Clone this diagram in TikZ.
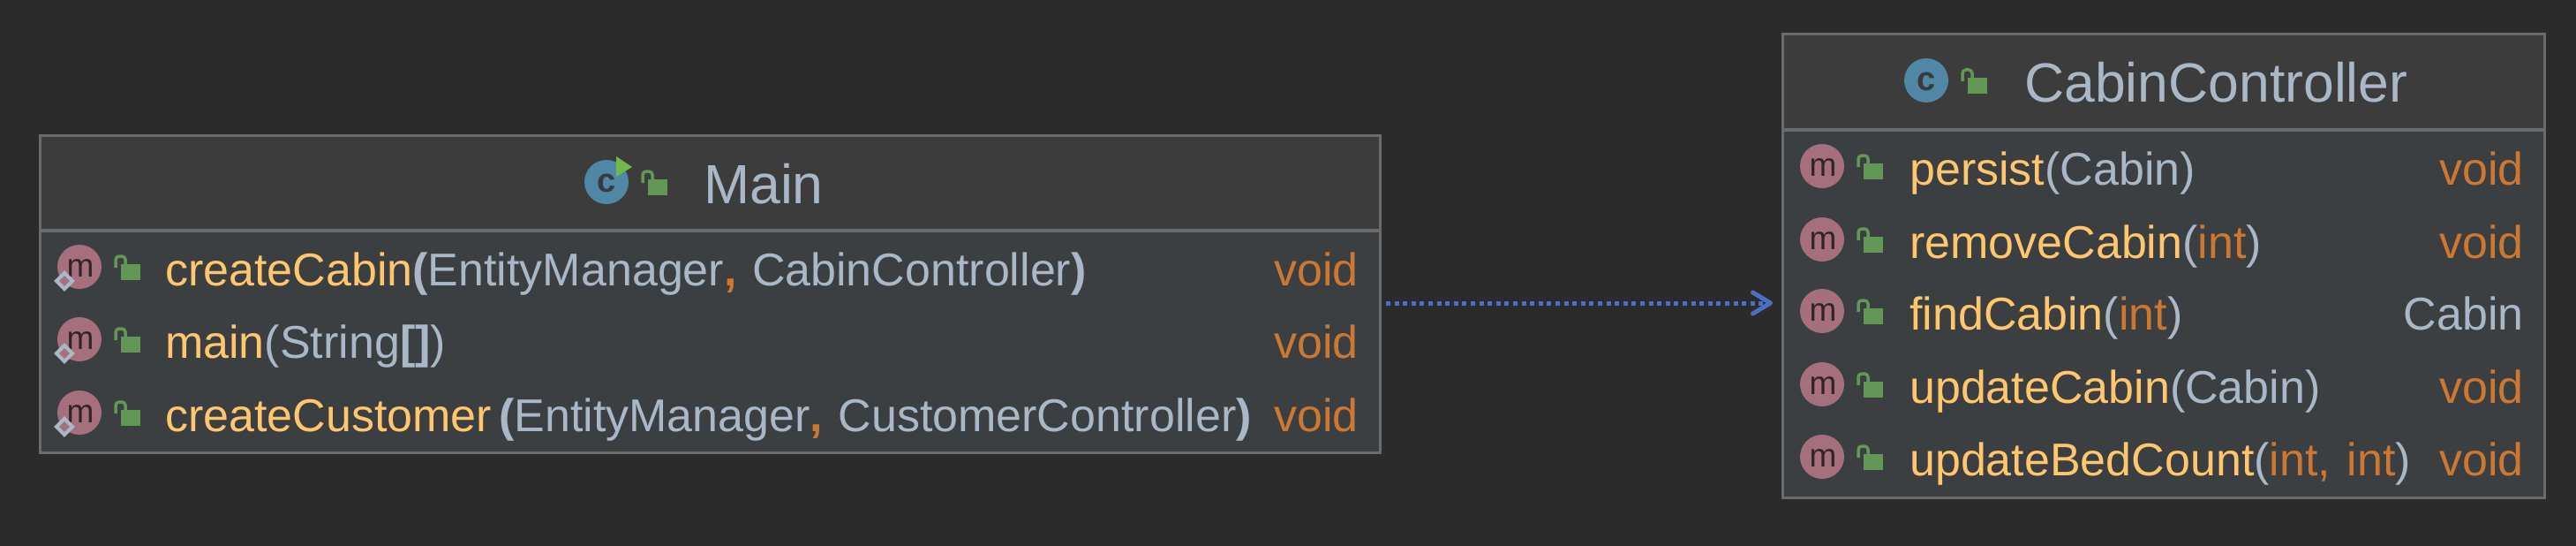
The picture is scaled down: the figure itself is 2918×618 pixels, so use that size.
\documentclass[tikz,border=0pt]{standalone}
\usepackage{fontspec}
\setmainfont{Liberation Sans}
\usetikzlibrary{arrows.meta}
\usetikzlibrary{calc}

\definecolor{bgdark}{HTML}{2B2B2B}
\definecolor{headfill}{HTML}{3C3C3C}
\definecolor{bodyfill}{HTML}{3C3F41}
\definecolor{boxline}{HTML}{6B6B6B}
\definecolor{textgrey}{HTML}{A9B7C6}
\definecolor{methyellow}{HTML}{FFC66D}
\definecolor{kworange}{HTML}{CC7832}
\definecolor{methpink}{HTML}{A56F7E}
\definecolor{letterdark}{HTML}{33242A}
\definecolor{classblue}{HTML}{4F87A5}
\definecolor{lockgreen}{HTML}{629755}
\definecolor{playgreen}{HTML}{6FB74E}
\definecolor{arrowblue}{HTML}{4A6FC3}

\newcommand{\mname}[1]{\textcolor{methyellow}{#1}}
\newcommand{\kw}[1]{\textcolor{kworange}{#1}}

\tikzset{
	classbox/.style={rectangle, inner sep=0pt, outer sep=0pt, fill=bodyfill},
	boxedge/.style={draw=boxline, line width=3pt},
	boxdiv/.style={draw=boxline, line width=4pt},
	title/.style={anchor=base west, inner sep=0pt, text=textgrey, font=\fontsize{62.5}{70}\selectfont},
	methtext/.style={anchor=base west, inner sep=0pt, text=textgrey, font=\fontsize{52}{60}\selectfont},
	rettext/.style={anchor=base east, inner sep=0pt, text=kworange, font=\fontsize{52}{60}\selectfont},
	openlock/.pic={
		\fill[lockgreen] (47,-3) rectangle (69,15);
		\draw[lockgreen, line width=3.5pt, rounded corners=4pt] (41,1) -- (41,-12) -- (52,-12) -- (52,-3);
	},
	methicon/.pic={
		\fill[methpink] (0,0) circle (25pt);
		\node[inner sep=0pt, text=letterdark, font=\fontsize{37}{40}\selectfont] (letter) at (1,2) {m};
		\pic {openlock};
	},
	staticmark/.pic={
		\draw[draw=textgrey, fill=methpink, line width=4pt] (-17,7) -- (-8,16) -- (-17,25) -- (-26,16) -- cycle;
	},
	classicon/.pic={
		\fill[classblue] (0,0) circle (25pt);
		\node[inner sep=0pt, text=letterdark!80!classblue, font=\bfseries\fontsize{38}{40}\selectfont] (letter) at (0,1) {c};
		\pic {openlock};
	},
	runmark/.pic={
		\fill[playgreen] (11,-29) -- (29,-17) -- (11,-6) -- cycle;
	},
	depline/.style={draw=arrowblue, line width=5pt, dash pattern=on 5pt off 4.6pt,
		-{Straight Barb[length=20pt,width=24pt,line width=5pt,round,sep=0pt]}},
}

\begin{document}
\begin{tikzpicture}[x=1pt, y=-1pt]
	\fill[bgdark] (0,0) rectangle (2918,618);

	% Main
	\node[classbox, minimum width=1518pt, minimum height=359pt] (main) at (804,332.5) {};
	\coordinate (maindiv) at (45,261);
	\fill[headfill] (main.north west) rectangle (main.east |- maindiv);
	\draw[boxedge] (main.north west) rectangle (main.south east);
	\draw[boxdiv] (maindiv) -- (main.east |- maindiv);

	\node[title] (maintitle) at (797,230) {Main};
	\pic (mainicon) at (687,206) {classicon};
	\pic (mainrun) at (687,206) {runmark};

	\node[methtext] (createcabin) at (187,323) {\mname{createCabin}\textbf{(}EntityManager\textbf{\kw{,}}\hspace{3pt} CabinController\textbf{)}};
	\node[rettext] (voida) at (1539,323) {void};
	\pic (iconcc) at ([shift={(-97,-21)}]createcabin.base west) {methicon};
	\pic (markcc) at ([shift={(-97,-21)}]createcabin.base west) {staticmark};

	\node[methtext] (mainmeth) at (187,405) {\mname{main}(String\textbf{[]})};
	\node[rettext] (voidb) at (1539,405) {void};
	\pic (iconmm) at ([shift={(-97,-21)}]mainmeth.base west) {methicon};
	\pic (markmm) at ([shift={(-97,-21)}]mainmeth.base west) {staticmark};

	\node[methtext] (createcust) at (187,488) {\mname{createCustomer}\hspace{8pt}\textbf{(}EntityManager\textbf{\kw{,}}\hspace{3pt} CustomerController\textbf{)}};
	\node[rettext] (voidc) at (1539,488) {void};
	\pic (iconcu) at ([shift={(-97,-21)}]createcust.base west) {methicon};
	\pic (markcu) at ([shift={(-97,-21)}]createcust.base west) {staticmark};

	% CabinController
	\node[classbox, minimum width=863pt, minimum height=524pt] (cabin) at (2450.5,301) {};
	\coordinate (cabindiv) at (2019,147);
	\fill[headfill] (cabin.north west) rectangle (cabin.east |- cabindiv);
	\draw[boxedge] (cabin.north west) rectangle (cabin.south east);
	\draw[boxdiv] (cabindiv) -- (cabin.east |- cabindiv);

	\node[title] (cabintitle) at (2293,115) {CabinController};
	\pic (cabinicon) at (2182,91) {classicon};

	\node[methtext] (persist) at (2163,209) {\mname{persist}(Cabin)};
	\node[rettext] (retpersist) at (2859,209) {void};
	\pic (iconpe) at ([shift={(-99,-21)}]persist.base west) {methicon};

	\node[methtext] (remove) at (2163,292) {\mname{removeCabin}(\kw{int})};
	\node[rettext] (retremove) at (2859,292) {void};
	\pic (iconre) at ([shift={(-99,-21)}]remove.base west) {methicon};

	\node[methtext] (find) at (2163,373) {\mname{findCabin}(\kw{int})};
	\node[rettext, text=textgrey] (retfind) at (2859,373) {Cabin};
	\pic (iconfi) at ([shift={(-99,-21)}]find.base west) {methicon};

	\node[methtext] (update) at (2163,456) {\mname{updateCabin}(Cabin)};
	\node[rettext] (retupdate) at (2859,456) {void};
	\pic (iconup) at ([shift={(-99,-21)}]update.base west) {methicon};

	\node[methtext] (bedcount) at (2163,538) {\mname{updateBedCount}(\kw{int,\hspace{4pt} int})};
	\node[rettext] (retbed) at (2859,538) {void};
	\pic (iconbe) at ([shift={(-99,-21)}]bedcount.base west) {methicon};

	\draw[depline] ([shift={(7,10.5)}]main.east) -- ([shift={(-11,42)}]cabin.west);
\end{tikzpicture}
\end{document}
